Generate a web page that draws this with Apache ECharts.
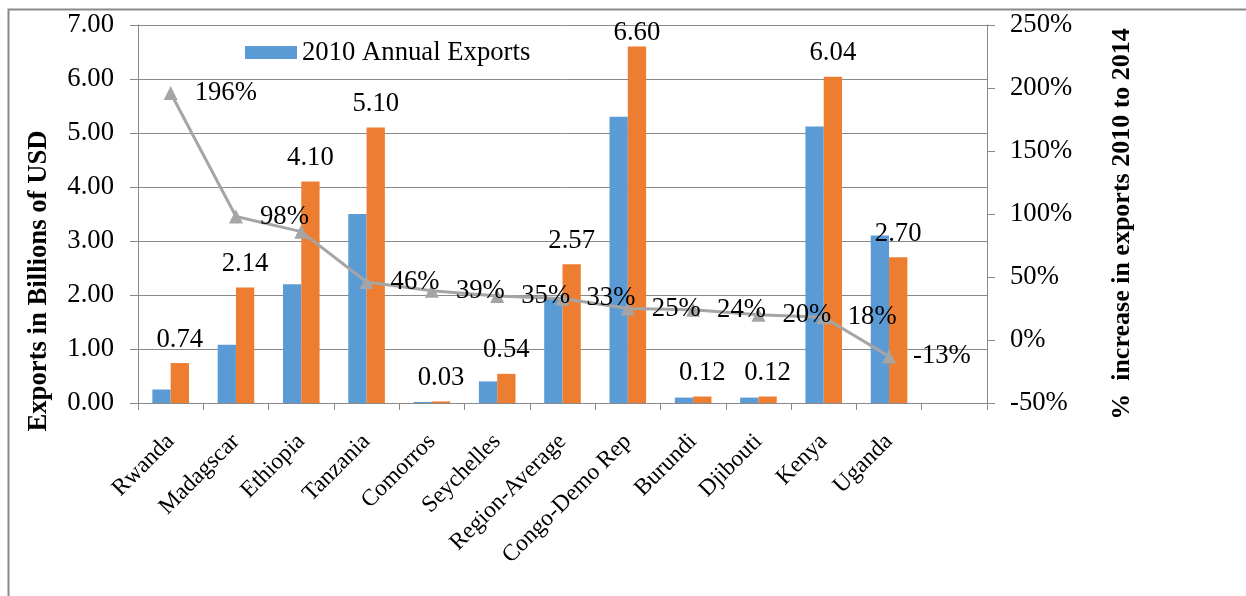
<!DOCTYPE html>
<html>
<head>
<meta charset="utf-8">
<style>
html,body{margin:0;padding:0;background:#fff;}
#c{width:1246px;height:596px;}
</style>
<script src="https://cdn.jsdelivr.net/npm/echarts@6/dist/echarts.min.js"></script>
</head>
<body>
<div id="c"></div>
<script>
var categories = ['Rwanda','Madagscar','Ethiopia','Tanzania','Comorros','Seychelles','Region-Average','Congo-Demo Rep','Burundi','Djibouti','Kenya','Uganda',''];
var exports2010 = [0.25, 1.08, 2.20, 3.50, 0.02, 0.40, 1.93, 5.30, 0.10, 0.10, 5.12, 3.10];
var exports2014 = [0.74, 2.14, 4.10, 5.10, 0.03, 0.54, 2.57, 6.60, 0.12, 0.12, 6.04, 2.70];
var pctIncrease = [196, 98, 86, 46, 39, 35, 33, 25, 24, 20, 18, -13];
var leftTicks = {min: 0, max: 7, interval: 1};
var rightTicks = {min: -50, max: 250, interval: 50};

var FONT = "'Liberation Serif','Times New Roman',serif";
var FS = 26.7;
var GRAY = '#898989';

var chart = echarts.init(document.getElementById('c'));

var orangeData = exports2014.map(function (v, i) {
  if (i === 7) return {value: v, label: {distance: 0}};
  return v;
});
var lineData = pctIncrease.map(function (v, i) {
  if (i === 2) return {value: v, label: {show: false}};
  return v;
});

chart.setOption({
  animation: false,
  textStyle: {fontFamily: FONT},
  grid: {left: 138, right: 259, top: 25, bottom: 193, containLabel: false},
  legend: {
    data: ['2010 Annual Exports'],
    left: 245, top: 39, padding: 0,
    itemWidth: 52, itemHeight: 13, itemGap: 10,
    icon: 'rect',
    textStyle: {fontFamily: FONT, fontSize: FS, color: '#000', padding: [0,0,0,0]}
  },
  xAxis: {
    type: 'category',
    data: categories,
    boundaryGap: true,
    axisLine: {lineStyle: {color: GRAY, width: 1}},
    axisTick: {show: true, length: 7, lineStyle: {color: GRAY}},
    axisLabel: {rotate: 45, interval: 0, margin: 35, fontFamily: FONT, fontSize: 23.5, color: '#000'},
    splitLine: {show: false}
  },
  yAxis: [{
    type: 'value',
    min: leftTicks.min, max: leftTicks.max, interval: leftTicks.interval,
    axisLine: {show: true, lineStyle: {color: GRAY}},
    axisTick: {show: true, length: 8, lineStyle: {color: GRAY}},
    axisLabel: {margin: 24, fontFamily: FONT, fontSize: FS, color: '#000',
      formatter: function (v) { return v.toFixed(2); }},
    splitLine: {show: true, lineStyle: {color: GRAY, width: 1}}
  }, {
    type: 'value',
    position: 'right',
    min: rightTicks.min, max: rightTicks.max, interval: rightTicks.interval,
    axisLine: {show: true, lineStyle: {color: GRAY}},
    axisTick: {show: true, length: 8, lineStyle: {color: GRAY}},
    axisLabel: {margin: 23, fontFamily: FONT, fontSize: FS, color: '#000',
      formatter: function (v) { return v + '%'; }},
    splitLine: {show: false}
  }],
  series: [{
    name: '2010 Annual Exports',
    type: 'bar',
    data: exports2010,
    barWidth: 18.3,
    barGap: '0%',
    itemStyle: {color: '#5B9BD5'},
    z: 2
  }, {
    name: '2014 Annual Exports',
    type: 'bar',
    data: orangeData,
    barWidth: 18.3,
    barGap: '0%',
    itemStyle: {color: '#ED7D31'},
    label: {show: true, position: 'top', distance: 10, fontFamily: FONT, fontSize: FS, color: '#000',
      formatter: function (p) { return Number(p.value).toFixed(2); }},
    z: 2
  }, {
    name: '% increase',
    type: 'line',
    yAxisIndex: 1,
    data: lineData,
    symbol: 'triangle',
    symbolSize: 14,
    lineStyle: {color: '#A5A5A5', width: 3},
    itemStyle: {color: '#A5A5A5'},
    label: {show: true, position: 'right', distance: 17, fontFamily: FONT, fontSize: FS, color: '#000',
      formatter: function (p) { return p.value + '%'; }},
    z: 5
  }],
  graphic: [{
    type: 'rect',
    shape: {x: 8.5, y: 9.5, width: 1400, height: 800},
    style: {fill: 'none', stroke: GRAY, lineWidth: 2},
    silent: true
  }, {
    type: 'text',
    x: 39, y: 281, rotation: Math.PI / 2,
    style: {text: 'Exports in Billions of USD', font: 'bold ' + FS + 'px ' + FONT, fill: '#000', textAlign: 'center', textVerticalAlign: 'middle'}
  }, {
    type: 'text',
    x: 1122, y: 224, rotation: Math.PI / 2,
    style: {text: '%  increase in exports 2010 to 2014', font: 'bold 26px ' + FONT, fill: '#000', textAlign: 'center', textVerticalAlign: 'middle'}
  }]
});
</script>
</body>
</html>
